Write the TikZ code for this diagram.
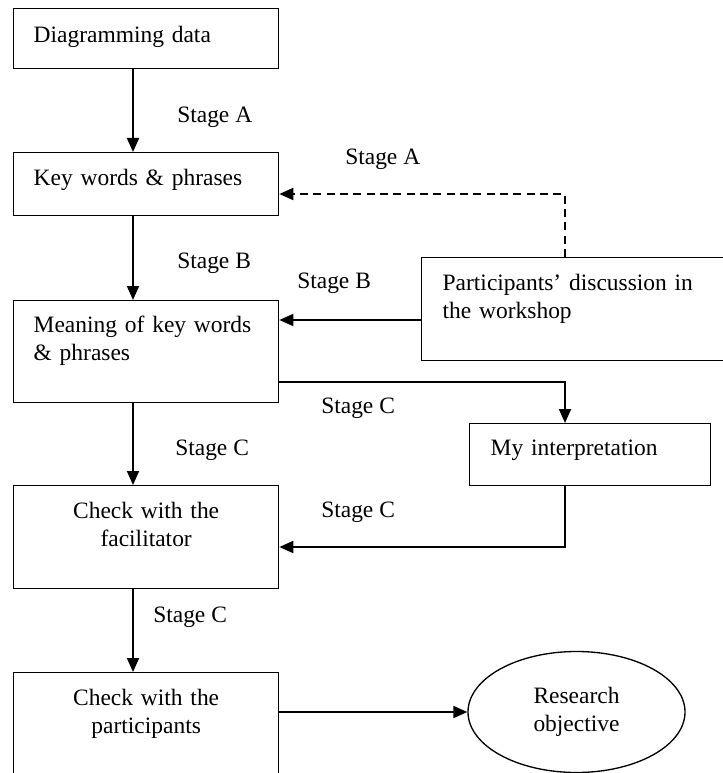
\documentclass[tikz,border=0pt]{standalone}
\usepackage{fontspec}
\setmainfont{Liberation Serif}
\usetikzlibrary{arrows.meta,shapes.geometric}
\newdimen\pxu \pxu=0.75pt
\tikzset{>={Triangle[length=10.5pt,width=9pt]}}

\begin{document}
\begin{tikzpicture}[x=0.75pt,y=-0.75pt,font=\fontsize{17.6}{21}\selectfont]

\tikzstyle{box}=[draw,line width=1pt,anchor=north west,inner ysep=0pt,
  inner xsep=20\pxu,text width=225\pxu,align=left]
\tikzstyle{arr}=[->,line width=1.4pt]
\tikzstyle{lab}=[anchor=base west,inner sep=0pt]

\useasboundingbox (0,0) rectangle (723,773);

% boxes down the left side
\node[box,text height=34\pxu,text depth=26\pxu] (dd) at (13,8) {Diagramming data};
\node[box,text height=33\pxu,text depth=30\pxu] (kw) at (13,152) {Key words \& phrases};
\node[box,text height=32\pxu,text depth=70\pxu] (mean) at (13,300) {Meaning of key words\\ \& phrases};
\node[box,align=center,text height=33\pxu,text depth=70\pxu] (fac) at (13,485) {Check with the\\ facilitator};
\node[box,align=center,text height=33\pxu,text depth=104\pxu] (part) at (13,672) {Check with the\\ participants};

% boxes on the right
\node[box,inner xsep=21\pxu,text width=277\pxu,text height=33\pxu,text depth=70\pxu] (disc) at (421,257)
  {Participants’ discussion in\\ the workshop};
\node[box,inner xsep=21\pxu,text width=199\pxu,text height=32\pxu,text depth=30\pxu] (interp) at (469,423)
  {My interpretation};
\node[draw,line width=1pt,ellipse,minimum width=217\pxu,minimum height=121\pxu,inner sep=0pt,
  align=center] (obj) at (576.5,712) {Research\\ objective};

\coordinate (colx) at (133,0);
\coordinate (turnx) at (565,0);
\coordinate (ya) at (0,194);
\coordinate (yb) at (0,320);
\coordinate (yc) at (0,382);
\coordinate (yd) at (0,547);

\draw[arr] (dd.south -| colx) -- (kw.north -| colx);
\draw[arr] (kw.south -| colx) -- (mean.north -| colx);
\draw[arr] (mean.south -| colx) -- (fac.north -| colx);
\draw[arr] (fac.south -| colx) -- (part.north -| colx);
\draw[arr,dashed,dash pattern=on 6pt off 4pt] (disc.north -| turnx) |- (kw.east |- ya);
\draw[arr] (disc.west |- yb) -- (mean.east |- yb);
\draw[arr] (mean.east |- yc) -| (interp.north -| turnx);
\draw[arr] (interp.south -| turnx) |- (fac.east |- yd);
\draw[arr] (part.east |- obj.west) -- (obj.west);

\node[lab] (sa1) at (177,123) {Stage A};
\node[lab] (sb1) at (177,268) {Stage B};
\node[lab] (sa2) at (345,165) {Stage A};
\node[lab] (sb2) at (297,288) {Stage B};
\node[lab] (sc1) at (321,413) {Stage C};
\node[lab] (sc2) at (175,455) {Stage C};
\node[lab] (sc3) at (321,517) {Stage C};
\node[lab] (sc4) at (153,622) {Stage C};
\end{tikzpicture}
\end{document}
